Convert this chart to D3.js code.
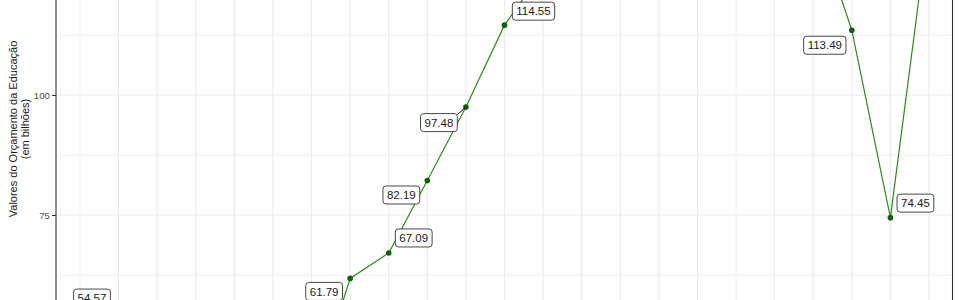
<!DOCTYPE html>
<html><head><meta charset="utf-8">
<script src="https://cdn.jsdelivr.net/npm/d3@7"></script>
<style>body{margin:0;background:#fff}svg{display:block}</style>
</head><body>
<svg id="c" width="960" height="300"></svg>
<script>
// categories (years) and series values
const years = ["2000","2001","2002","2003","2004","2005","2006","2007","2008","2009","2010","2011",
               "2012","2013","2014","2015","2016","2017","2018","2019","2020","2021","2022"];
const values = [54.57, 50.2, 47.8, 45.1, 43.0, 40.3, 36.4, 61.79, 67.09, 82.19, 97.48, 114.55,
                125.9, 131.2, 136.8, 139.5, 141.3, 138.0, 140.6, 137.5, 113.49, 74.45, 136.2];
const labelled = [0, 7, 8, 9, 10, 11, 20, 21];
const gridTicks = [50, 75, 100, 125];
const tickLabels = [75, 100];
const minorTicks = [62.5, 87.5, 112.5];
const yTitle = ["Valores do Orçamento da Educação", "(em bilhões)"];

// label layout (offset of label centre from its point, px) – ggrepel-like placement
const labelNudge = {0:[12,-15], 7:[-26,13], 8:[25,-15], 9:[-26,14.5], 10:[-27,15.5], 11:[29,-14], 20:[-27,15], 21:[25,-14.5]};
const withSegment = {10:true};

const svg = d3.select("#c");
const left = 56, right = 952.5;
const x = d3.scalePoint().domain(years).range([80, 929]);
const y = d3.scaleLinear().domain([50, 125]).range([335, -25]);

// grid
svg.append("g").selectAll("line").data(minorTicks).join("line")
  .attr("x1", left).attr("x2", right).attr("y1", d => y(d)).attr("y2", d => y(d))
  .attr("stroke", "#ebebeb").attr("stroke-width", 0.8);
svg.append("g").selectAll("line").data(gridTicks).join("line")
  .attr("x1", left).attr("x2", right).attr("y1", d => y(d)).attr("y2", d => y(d))
  .attr("stroke", "#ebebeb").attr("stroke-width", 1.1);
svg.append("g").selectAll("line").data(years).join("line")
  .attr("x1", d => x(d)).attr("x2", d => x(d)).attr("y1", -50).attr("y2", 350)
  .attr("stroke", "#ebebeb").attr("stroke-width", 1.1);

// panel border (left & right visible)
svg.append("line").attr("x1", left).attr("x2", left).attr("y1", -50).attr("y2", 350)
  .attr("stroke", "#333").attr("stroke-width", 1.1);
svg.append("line").attr("x1", right).attr("x2", right).attr("y1", -50).attr("y2", 350)
  .attr("stroke", "#333").attr("stroke-width", 1.1);

// y axis
const yAxis = d3.axisLeft(y).tickValues(tickLabels).tickSize(4).tickPadding(2).tickFormat(d3.format("d"));
const ga = svg.append("g").attr("transform", `translate(${left},0)`).call(yAxis);
ga.select(".domain").remove();
ga.selectAll("line").attr("stroke", "#333");
ga.selectAll("text").attr("fill", "#4d4d4d").style("font-family", "Liberation Sans, Arial, sans-serif").style("font-size", "9.7px");

// y title
const t = svg.append("text").attr("transform", "translate(19,129) rotate(-90)")
  .attr("text-anchor", "middle").attr("fill", "#1a1a1a")
  .style("font-family", "Liberation Sans, Arial, sans-serif").style("font-size", "11px");
t.append("tspan").attr("x", 0).attr("dy", "-0.15em").text(yTitle[0]);
t.append("tspan").attr("x", 0).attr("dy", "1.1em").text(yTitle[1]);

// line + points
const data = years.map((yr, i) => ({yr, v: values[i], i}));
svg.append("path").datum(data)
  .attr("d", d3.line().x(d => x(d.yr)).y(d => y(d.v)))
  .attr("fill", "none").attr("stroke", "#2f8a1c").attr("stroke-width", 1.2);
svg.append("g").selectAll("circle").data(data).join("circle")
  .attr("cx", d => x(d.yr)).attr("cy", d => y(d.v)).attr("r", 2.8).attr("fill", "#0f5e0a");

// labels
const lg = svg.append("g");
labelled.forEach(i => {
  const d = data[i];
  const px = x(d.yr), py = y(d.v);
  const [dx, dy] = labelNudge[i];
  const cx = px + dx, cy = py + dy;
  const g = lg.append("g");
  const txt = g.append("text").attr("x", cx).attr("y", cy).attr("dy", "0.36em")
    .attr("text-anchor", "middle").attr("fill", "#1a1a1a")
    .style("font-family", "Liberation Sans, Arial, sans-serif").style("font-size", "11.5px")
    .text(d3.format(".2f")(d.v));
  const bb = txt.node().getBBox();
  const w = bb.width + 8, h = 18;
  if (withSegment[i]) {
    const ex = dx < 0 ? cx + w / 2 : cx - w / 2;
    const ey = dy < 0 ? cy + h / 2 : cy - h / 2 + 1;
    lg.insert("line", ":first-child").attr("x1", ex).attr("y1", ey).attr("x2", px).attr("y2", py)
      .attr("stroke", "#000").attr("stroke-width", 1);
  }
  g.insert("rect", "text").attr("x", cx - w / 2).attr("y", cy - h / 2).attr("width", w).attr("height", h)
    .attr("rx", 3).attr("fill", "#fff").attr("stroke", "#333").attr("stroke-width", 0.9);
});
</script>
</body></html>
